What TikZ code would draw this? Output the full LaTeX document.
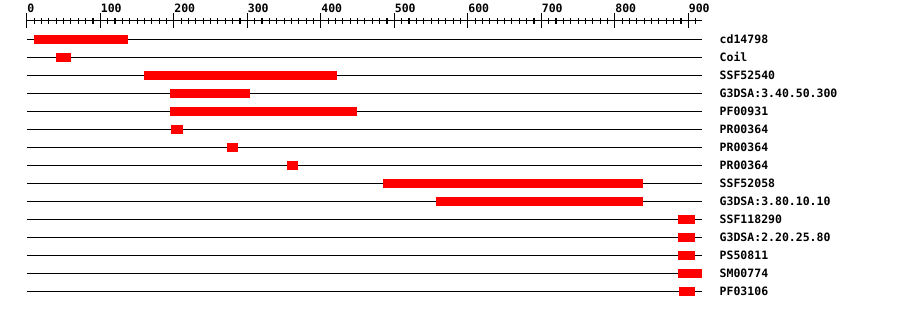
\documentclass[tikz,border=0pt]{standalone}
\usepackage{fontspec}
\newfontfamily\gdfont{DejaVu Sans Mono}
\tikzset{
  lbl/.style={font=\gdfont\bfseries\fontsize{11.5}{13}\selectfont,inner sep=0pt,anchor=west},
  hit/.style={fill=red}
}
\begin{document}
\begin{tikzpicture}[x=1pt,y=-1pt,line width=1.1pt]
\useasboundingbox (0,0) rectangle (900,310);

\begin{scope}[xshift=26.8pt,x=0.735pt]
% Ruler
\draw (0,20.7) -- (918.6,20.7);
\foreach \t in {0,10,...,910} \draw (\t,18) -- (\t,24);
\foreach \t in {0,100,...,900} {
  \draw (\t,13) -- (\t,28);
  \node[lbl] (tick\t) at (\t,8) {\t};
}

% Matches
\foreach \name/\a/\b [count=\i] in {
  cd14798/10/138, Coil/40/60, SSF52540/159.5/422,
  G3DSA:3.40.50.300/194.8/303.7, PF00931/194.8/449,
  PR00364/196/212.5, PR00364/272.4/287.3, PR00364/354/369,
  SSF52058/484.6/838, G3DSA:3.80.10.10/556.7/838,
  SSF118290/886/909, G3DSA:2.20.25.80/886/909, PS50811/886/909,
  SM00774/886/918.6, PF03106/887/909} {
  \pgfmathsetmacro\y{21.3+18*\i}
  \draw (0,\y) -- (918.6,\y);
  \fill[hit] (\a,\y-4.5) rectangle (\b,\y+4.5);
  \node[lbl] (row\i) at (942,\y) {\name};
}
\end{scope}
\end{tikzpicture}
\end{document}
